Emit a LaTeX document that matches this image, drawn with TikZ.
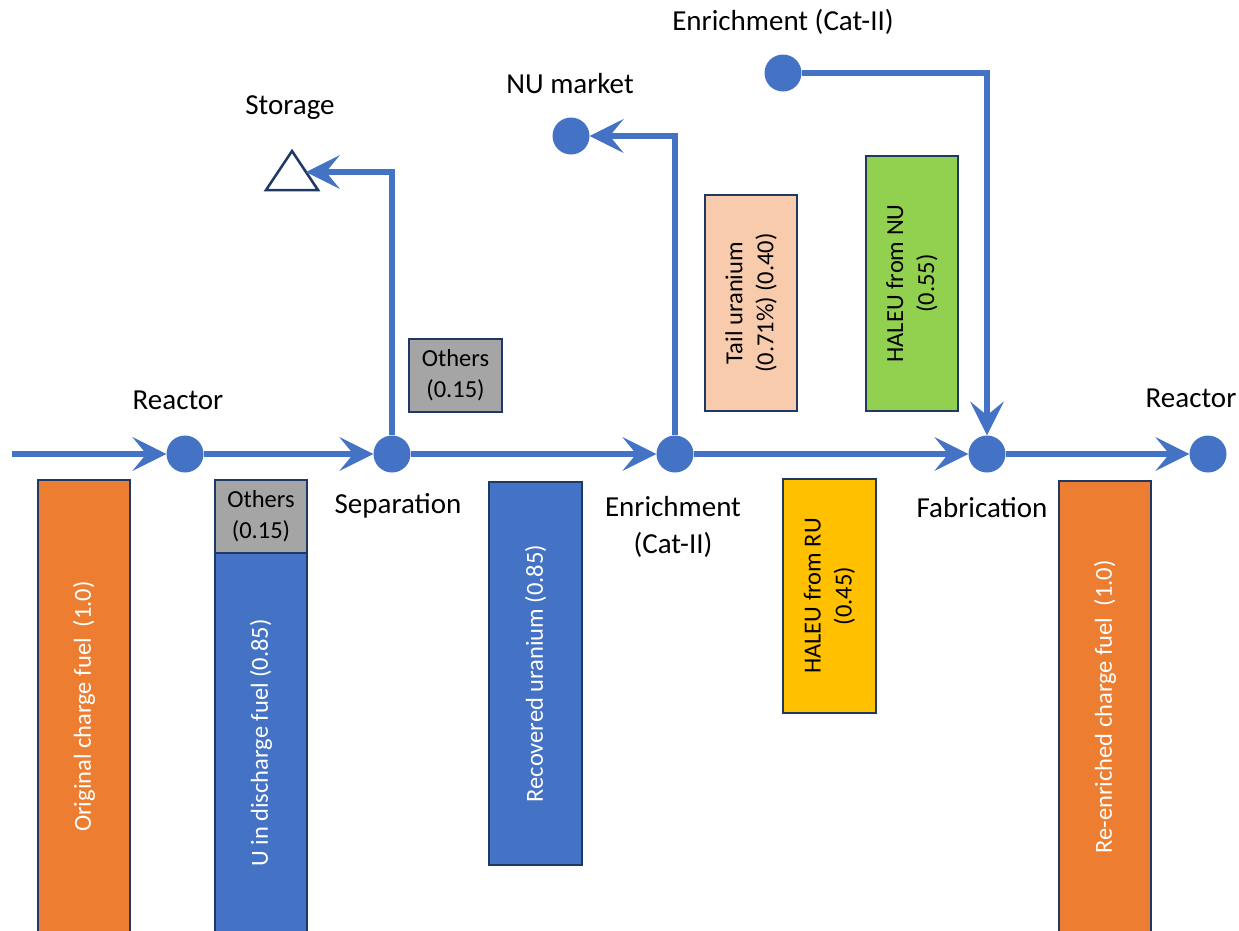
\documentclass[tikz,border=0pt]{standalone}
\usepackage{fontspec}
\setmainfont{Carlito}
\usetikzlibrary{arrows.meta}

\definecolor{flowblue}{HTML}{4472C4}
\definecolor{edgenavy}{HTML}{1F3864}
\definecolor{fuelorange}{HTML}{ED7D31}
\definecolor{othergray}{HTML}{A5A5A5}
\definecolor{tailpeach}{HTML}{F8CBAD}
\definecolor{nugreen}{HTML}{92D050}
\definecolor{rugold}{HTML}{FFC000}

\tikzset{
  flow/.style={line width=6pt, draw=flowblue},
  flowarrow/.style={flow, -{Stealth[length=34pt, width=34pt, inset=14pt, line width=0pt]}},
  dot/.style={circle, fill=flowblue, minimum size=37pt, inner sep=0pt},
  lbl/.style={font=\fontsize{29}{37}\selectfont, text=black, align=center, inner sep=0pt},
  bar/.style={draw=edgenavy, line width=1.5pt, inner sep=0pt, rotate=90, align=center,
    font=\fontsize{24.5}{31}\selectfont},
  tag/.style={draw=edgenavy, line width=1.5pt, inner sep=0pt, align=center,
    font=\fontsize{24.5}{31}\selectfont, fill=othergray, text=black}
}

\begin{document}
\begin{tikzpicture}[x=1pt, y=-1pt]
  \useasboundingbox (0,0) rectangle (1239,930);

  % process points
  \coordinate (start) at (12,454);
  \node[dot] (reac1) at (185,454) {};
  \node[dot] (sep) at (392,454) {};
  \node[dot] (enr) at (675,454) {};
  \node[dot] (fab) at (987,454) {};
  \node[dot] (reac2) at (1208,454) {};
  \node[dot] (nu) at (571,136) {};
  \node[dot] (enrtop) at (783,73) {};

  % storage triangle
  \draw[edgenavy, line width=2.5pt, line join=miter] (266,190) -- (292,151) -- (318,190) -- cycle;
  \coordinate (stor) at (306,172);

  % material bars (rotated: width is the vertical extent)
  \node[bar, fill=fuelorange, text=white, minimum width=453pt, minimum height=92pt]
    (orig) at (84,706.5) {Original charge fuel~~(1.0)};
  \node[tag, minimum width=92pt, minimum height=73pt] (oth1) at (261,516.5) {Others\\(0.15)};
  \node[bar, fill=flowblue, text=white, minimum width=380pt, minimum height=92pt]
    (udis) at (261,743) {U in discharge fuel (0.85)};
  \node[tag, minimum width=93pt, minimum height=73pt] (oth2) at (455.5,375.5) {Others\\(0.15)};
  \node[bar, fill=flowblue, text=white, minimum width=383pt, minimum height=93pt]
    (rec) at (535.5,673.5) {Recovered uranium (0.85)};
  \node[bar, fill=tailpeach, text=black, minimum width=216pt, minimum height=92pt]
    (tail) at (751,303) {Tail uranium\\(0.71\%) (0.40)};
  \node[bar, fill=nugreen, text=black, minimum width=255pt, minimum height=92pt]
    (halnu) at (912,283.5) {HALEU from NU\\(0.55)};
  \node[bar, fill=rugold, text=black, minimum width=234pt, minimum height=93pt]
    (halru) at (829.5,596) {HALEU from RU\\(0.45)};
  \node[bar, fill=fuelorange, text=white, minimum width=452pt, minimum height=92pt]
    (reen) at (1105,707) {Re-enriched charge fuel~~(1.0)};

  % main flow
  \draw[flowarrow] (start) -- (reac1);
  \draw[flowarrow] (reac1) -- (sep);
  \draw[flowarrow] (sep) -- (enr);
  \draw[flowarrow] (enr) -- (fab);
  \draw[flowarrow] (fab) -- (reac2);

  % side streams
  \draw[flowarrow, line join=miter] (sep) |- (stor);
  \draw[flowarrow, line join=miter] (enr) |- (nu);
  \draw[flowarrow, line join=miter] (enrtop) -| (fab);

  % labels
  \node[lbl] (lreac1) at (178,400) {Reactor};
  \node[lbl] (lstor) at (290,108) {Storage};
  \node[lbl] (lsep) at (398,506) {Separation};
  \node[lbl] (lnu) at (570,84) {NU market};
  \node[lbl] (lenrtop) at (783,22) {Enrichment (Cat-II)};
  \node[lbl] (lenr) at (673,527) {Enrichment\\(Cat-II)};
  \node[lbl] (lfab) at (982,508) {Fabrication};
  \node[lbl] (lreac2) at (1191,398) {Reactor};
\end{tikzpicture}
\end{document}
